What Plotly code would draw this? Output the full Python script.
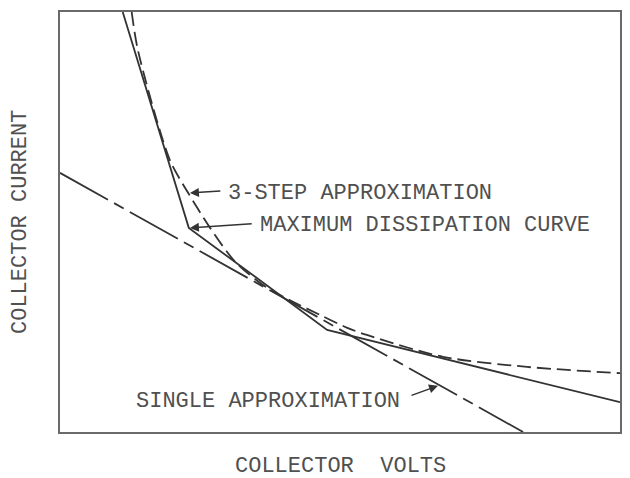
import plotly.graph_objects as go

# Collector volts / collector current (arbitrary units)
step_volts = [1.12, 2.30, 4.77, 10.0]
step_current = [10.0, 4.86, 2.43, 0.71]

curve_volts = [1.28, 1.39, 1.96, 2.29, 2.68, 3.13, 3.70, 4.16, 4.64, 5.13, 5.48, 6.84, 8.34, 10.0]
curve_current = [10.0, 9.10, 6.48, 5.69, 4.86, 4.05, 3.43, 3.10, 2.79, 2.48, 2.31, 1.79, 1.55, 1.40]

single_volts = [0.0, 8.27]
single_current = [6.17, 0.0]

label_step = "3-STEP APPROXIMATION"
label_curve = "MAXIMUM DISSIPATION CURVE"
label_single = "SINGLE APPROXIMATION"
x_title = "COLLECTOR  VOLTS"
y_title = "COLLECTOR CURRENT"

LINE = "#333333"
TEXT = "#505050"
FONT = "Liberation Mono"

fig = go.Figure()
fig.add_trace(go.Scatter(x=step_volts, y=step_current, mode="lines",
                         line=dict(color=LINE, width=1.8), showlegend=False, hoverinfo="skip"))
fig.add_trace(go.Scatter(x=curve_volts, y=curve_current, mode="lines",
                         line=dict(color=LINE, width=1.8, dash="14px,6px", shape="spline", smoothing=0.8),
                         showlegend=False, hoverinfo="skip"))
fig.add_trace(go.Scatter(x=single_volts, y=single_current, mode="lines",
                         line=dict(color=LINE, width=1.8, dash="55px,7px,11px,7px"),
                         showlegend=False, hoverinfo="skip"))

tf = dict(family=FONT, size=22, color=TEXT)
for txt, x, y in [(label_step, 2.97, 5.67), (label_curve, 3.54, 4.92), (label_single, 1.32, 0.72)]:
    fig.add_annotation(x=x, y=y, text=txt, showarrow=False, xanchor="left", yanchor="middle",
                       font=tf)

for (hx, hy, tx, ty) in [(2.32, 5.69, 2.89, 5.74), (2.32, 4.86, 3.45, 4.96), (6.75, 1.10, 6.25, 0.86)]:
    fig.add_annotation(x=hx, y=hy, ax=tx, ay=ty, axref="x", ayref="y", xref="x", yref="y",
                       text="", showarrow=True, arrowhead=2, arrowsize=1.2, arrowwidth=1.5,
                       arrowcolor=LINE, standoff=0)

fig.add_annotation(xref="paper", yref="paper", x=0.5, y=-0.0833, text=x_title, showarrow=False,
                   xanchor="center", yanchor="middle", font=tf)
fig.add_annotation(xref="paper", yref="paper", x=-0.0714, y=0.50, text=y_title, showarrow=False,
                   xanchor="center", yanchor="middle", textangle=-90, font=tf)

axis = dict(range=[0, 10], showgrid=False, zeroline=False, showticklabels=False, ticks="",
            showline=True, mirror=True, linecolor="#6a6a6a", linewidth=1.5, fixedrange=True)
fig.update_layout(
    width=622, height=470,
    margin=dict(l=52, r=10, t=4, b=46, autoexpand=False),
    paper_bgcolor="white", plot_bgcolor="white",
    xaxis=axis, yaxis=axis,
)
fig.write_html("out.html")
